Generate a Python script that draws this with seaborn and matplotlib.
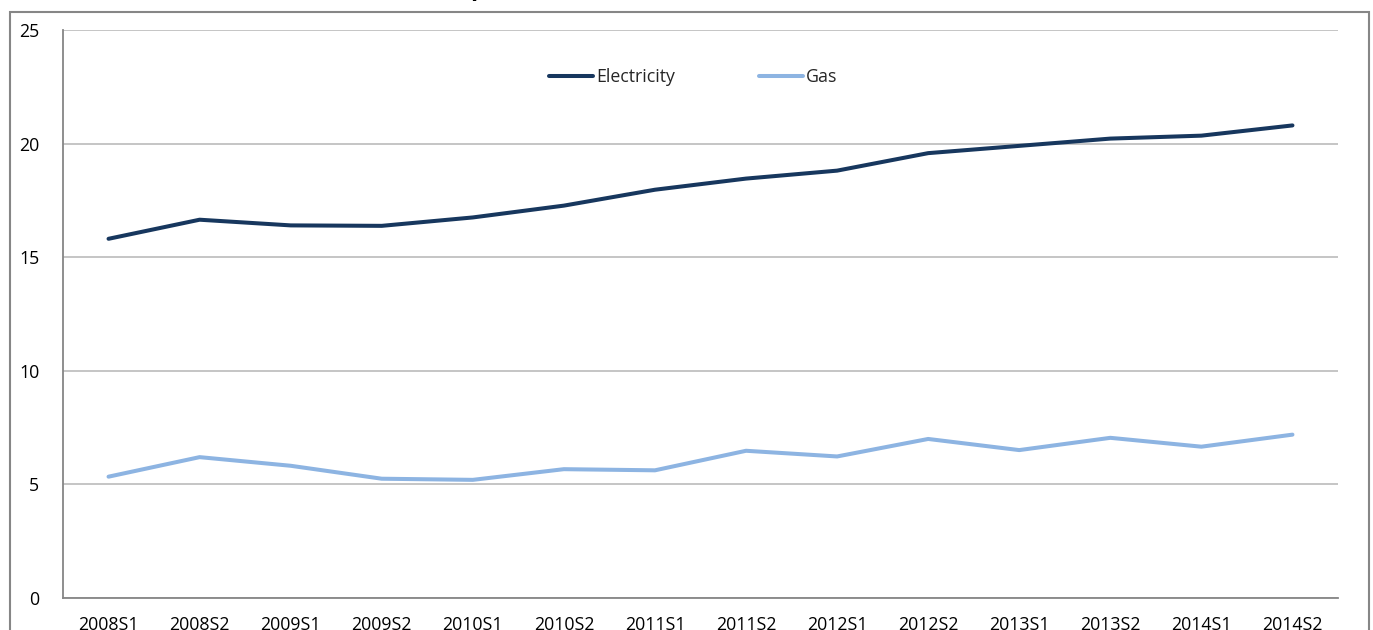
import numpy as np
import pandas as pd
import matplotlib
matplotlib.use("Agg")
import matplotlib.pyplot as plt
from matplotlib.patches import Rectangle
import seaborn as sns

# ---- data ----
periods = ["2008S1", "2008S2", "2009S1", "2009S2", "2010S1", "2010S2", "2011S1",
           "2011S2", "2012S1", "2012S2", "2013S1", "2013S2", "2014S1", "2014S2"]
electricity = [15.81, 16.65, 16.40, 16.38, 16.75, 17.27, 17.97,
               18.46, 18.81, 19.58, 19.90, 20.22, 20.35, 20.80]
gas = [5.34, 6.20, 5.82, 5.25, 5.20, 5.67, 5.62,
       6.48, 6.23, 7.00, 6.51, 7.05, 6.66, 7.19]
series_names = ["Electricity", "Gas"]
y_ticks = [0, 5, 10, 15, 20, 25]
title_text = "(EUR per 100 kWh, all taxes and levies included)"

df = pd.DataFrame({
    "period": periods * 2,
    "idx": list(range(len(periods))) * 2,
    "value": electricity + gas,
    "series": [series_names[0]] * len(periods) + [series_names[1]] * len(periods),
})

sns.set_theme(style="white")
plt.rcParams["font.family"] = ["Open Sans", "DejaVu Sans"]

W, H = 1373, 630
fig = plt.figure(figsize=(W / 100, H / 100), dpi=100)
ax = fig.add_axes([63 / W, 1 - 598 / H, (1338 - 63) / W, (598 - 30) / H])

palette = {"Electricity": "#17375E", "Gas": "#8DB4E2"}
sns.lineplot(data=df, x="idx", y="value", hue="series", palette=palette,
             linewidth=2.9, ax=ax, sort=False, solid_capstyle="round")

ax.set_xlim(-0.5, len(periods) - 0.5)
ax.set_ylim(0, 25)
ax.set_yticks(y_ticks)
ax.set_yticklabels([str(t) for t in y_ticks], fontsize=12.8, color="#000000")
ax.set_xticks(range(len(periods)))
ax.set_xticklabels(periods, fontsize=12.8, color="#000000")
ax.set_xticks(np.arange(-0.5, len(periods), 1), minor=True)
ax.tick_params(axis="x", which="major", length=0, pad=13)
ax.tick_params(axis="x", which="minor", length=6, width=1.2, color="#868686", direction="out")
ax.tick_params(axis="y", which="major", length=6, width=1.2, color="#868686", direction="out", pad=11)
ax.set_xlabel("")
ax.set_ylabel("")

ax.yaxis.grid(True, color="#C0C0C0", linewidth=1.3)
ax.xaxis.grid(False)
ax.set_axisbelow(True)
for side in ["top", "right"]:
    ax.spines[side].set_visible(False)
for side in ["left", "bottom"]:
    ax.spines[side].set_color("#868686")
    ax.spines[side].set_linewidth(1.3)

leg = ax.legend(loc="center", bbox_to_anchor=(693 / W, 1 - 77 / H),
                bbox_transform=fig.transFigure, ncol=2, frameon=False,
                fontsize=12.8, handlelength=2.5, handletextpad=0.15,
                columnspacing=4.7, borderpad=0)
for line in leg.get_lines():
    line.set_linewidth(2.9)
    line.set_solid_capstyle("round")

# outer chart border
fig.patches.append(Rectangle((10 / W, -0.1), (1369 - 10) / W, 1 - 12 / H + 0.1,
                             transform=fig.transFigure, fill=False,
                             edgecolor="#868686", linewidth=1.5))

# title (mostly cut off at top edge)
fig.text(689 / W, 1 + 5 / H, title_text, ha="center", va="baseline",
         fontsize=17, fontweight="bold", color="#000000")

fig.savefig("out.png", dpi=100)
